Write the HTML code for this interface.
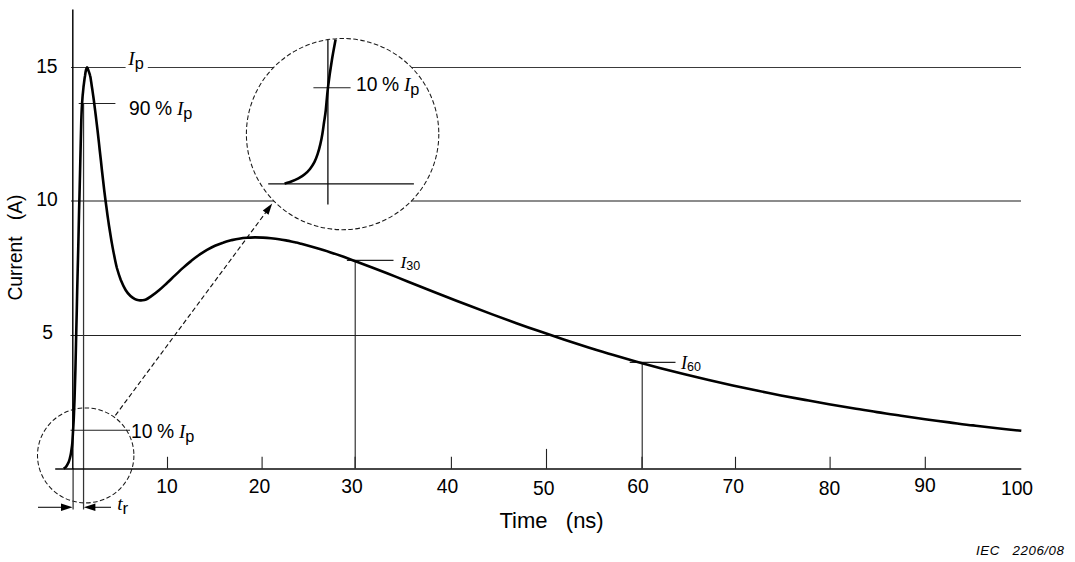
<!DOCTYPE html>
<html><head><meta charset="utf-8"><title>ESD current waveform</title>
<style>html,body{margin:0;padding:0;background:#fff}body{width:1075px;height:562px;overflow:hidden;font-family:"Liberation Sans",sans-serif}svg{display:block}</style>
</head><body>
<svg width="1075" height="562" viewBox="0 0 1075 562">
<rect width="1075" height="562" fill="#fff"/>
<g fill="none">
<path d="M71,67.5H125.6 M147.8,67.5H1021" stroke="#3a3a3a" stroke-width="1.1"/>
<path d="M71,201H1021" stroke="#8c8c8c" stroke-width="2"/>
<path d="M70.5,335.5H1021" stroke="#222" stroke-width="1.1"/>
</g>
<ellipse cx="342.6" cy="134.1" rx="96.2" ry="95.6" fill="#fff" stroke="#1a1a1a" stroke-width="1.05" stroke-dasharray="4.6,2.4"/>
<ellipse cx="85.7" cy="455.4" rx="48.2" ry="47.5" fill="none" stroke="#1a1a1a" stroke-width="1.05" stroke-dasharray="4.6,2.4"/>
<path d="M115.4,415.4 L265.8,212.4" stroke="#111" stroke-width="1.15" stroke-dasharray="4.8,2.8" fill="none"/>
<path d="M272.2,203.6 L268.5,214.8 L262.8,210.5 Z" fill="#000"/>
<g stroke="#222" stroke-width="1.1" fill="none">
<path d="M83.55,103.5V509.5" stroke-width="1.25" stroke="#333"/>
<path d="M73.1,468V509.5" stroke-width="1.25" stroke="#333"/>
<path d="M78.7,103.5H115.4"/>
<path d="M70.5,430.3H130"/>
<path d="M346.9,260.35H393.5 M355.2,260V468"/>
<path d="M629.7,362.4H675.5 M642.2,362.4V468"/>
<path d="M167.5,456.8V468.5"/>
<path d="M262.1,456.8V468.5"/>
<path d="M355.1,456.8V468.5"/>
<path d="M451.4,456.8V468.5"/>
<path d="M546.5,448.9V468.5"/>
<path d="M642,456.8V468.5"/>
<path d="M735.5,456.8V468.5"/>
<path d="M830.1,456.8V468.5"/>
<path d="M925.3,456.8V468.5"/>
<path d="M313.4,87.7H350.6"/>
</g>
<g stroke="#0a0a0a" stroke-width="1.8" fill="none">
<path d="M72.8,9.6V469" stroke-width="1.5"/>
<path d="M55.2,469H1021.3" stroke-width="1.65"/>
</g>
<g stroke="#0a0a0a" stroke-width="1.3" fill="none">
<path d="M327.9,39.9V204.6"/>
<path d="M268.2,183.9H413.9"/>
</g>
<g stroke="#111" stroke-width="1.1" fill="#000">
<path d="M38,507.3H64"/><path d="M111,507.3H92"/>
<path d="M72.6,507.3 L61,503.6 V511 Z" stroke="none"/>
<path d="M83.8,507.3 L95.4,503.6 V511 Z" stroke="none"/>
</g>
<path d="M63.7,468.6 C64.0,468.4 64.9,468.0 65.5,467.4 C66.1,466.8 66.6,466.1 67.1,465.2 C67.6,464.3 68.2,463.2 68.7,462.0 C69.2,460.8 69.5,459.6 69.9,458.1 C70.3,456.6 70.7,454.9 71.0,453.0 C71.3,451.1 71.6,448.9 71.9,446.7 C72.2,444.5 72.3,444.4 72.5,440.0 C72.8,435.6 73.3,426.7 73.7,420.0 C74.0,413.3 74.2,408.3 74.5,400.0 C74.8,391.7 75.0,381.7 75.4,370.0 C75.7,358.3 76.0,343.3 76.3,330.0 C76.7,316.7 76.9,303.3 77.2,290.0 C77.6,276.7 77.8,263.3 78.2,250.0 C78.5,236.7 78.8,223.3 79.1,210.0 C79.5,196.7 79.8,181.7 80.1,170.0 C80.4,158.3 80.6,148.3 80.8,140.0 C81.0,131.7 81.1,125.8 81.3,120.0 C81.5,114.2 81.7,109.2 82.0,105.0 C82.2,100.8 82.5,98.0 82.7,95.0 C83.0,92.0 83.3,89.5 83.5,87.0 C83.8,84.5 84.2,81.8 84.4,80.0 C84.6,78.2 84.7,77.6 85.0,76.0 C85.2,74.4 85.5,71.8 85.9,70.3 C86.3,68.8 86.7,67.3 87.1,67.3 C87.5,67.3 87.9,68.8 88.4,70.3 C88.9,71.8 89.8,74.0 90.2,76.0 C90.7,78.0 90.8,79.7 91.2,82.0 C91.5,84.3 91.9,87.0 92.4,90.0 C92.8,93.0 93.2,95.8 93.8,100.0 C94.3,104.2 95.1,110.0 95.7,115.0 C96.3,120.0 96.8,124.2 97.5,130.0 C98.2,135.8 99.0,143.3 99.7,150.0 C100.5,156.7 101.2,163.3 101.9,170.0 C102.7,176.7 103.4,183.3 104.2,190.0 C105.0,196.7 106.0,204.2 106.8,210.0 C107.5,215.8 108.2,220.0 108.9,225.0 C109.7,230.0 110.5,235.0 111.3,240.0 C112.2,245.0 113.1,250.3 114.1,255.0 C115.0,259.7 115.8,263.8 116.9,268.0 C118.1,272.2 119.4,276.3 120.8,280.0 C122.3,283.7 124.0,287.3 125.6,290.0 C127.2,292.7 128.9,294.5 130.5,296.0 C132.1,297.5 133.6,298.4 135.0,299.1 C136.4,299.8 137.8,300.0 139.0,300.2 C140.2,300.4 141.3,300.4 142.5,300.3 C143.7,300.2 144.6,300.1 146.0,299.5 C147.4,298.9 148.8,298.0 151.0,296.4 C153.2,294.9 156.3,292.6 159.0,290.3 C161.7,288.1 164.3,285.5 167.0,283.0 C169.7,280.5 172.3,277.9 175.0,275.4 C177.7,272.9 180.3,270.3 183.0,267.9 C185.7,265.5 188.3,263.2 191.0,261.1 C193.7,258.9 196.3,256.9 199.0,255.0 C201.7,253.2 204.3,251.4 207.0,249.9 C209.7,248.4 212.3,247.0 215.0,245.8 C217.7,244.6 220.3,243.6 223.0,242.7 C225.7,241.7 228.3,241.0 231.0,240.3 C233.7,239.7 236.3,239.1 239.0,238.7 C241.7,238.3 244.3,238.0 247.0,237.8 C249.7,237.6 252.3,237.5 255.0,237.4 C257.7,237.4 260.3,237.5 263.0,237.6 C265.7,237.7 268.3,237.9 271.0,238.2 C273.7,238.5 276.3,238.8 279.0,239.2 C281.7,239.6 284.3,240.1 287.0,240.6 C289.7,241.1 292.8,241.8 295.0,242.2 C297.2,242.7 295.2,242.1 300.0,243.4 C304.8,244.7 316.0,247.7 324.0,250.2 C332.1,252.7 340.1,255.6 348.1,258.4 C356.1,261.3 364.1,264.4 372.1,267.5 C380.1,270.6 388.2,273.7 396.2,276.9 C404.2,280.1 412.2,283.3 420.2,286.5 C428.2,289.7 436.2,292.9 444.3,296.0 C452.3,299.2 460.3,302.3 468.3,305.3 C476.3,308.4 484.3,311.4 492.3,314.4 C500.4,317.4 508.4,320.3 516.4,323.2 C524.4,326.1 532.4,328.9 540.4,331.6 C548.4,334.4 556.5,337.1 564.5,339.7 C572.5,342.3 580.5,344.9 588.5,347.4 C596.5,349.9 604.5,352.4 612.6,354.7 C620.6,357.1 628.6,359.4 636.6,361.7 C644.6,363.9 652.6,366.1 660.6,368.2 C668.7,370.3 676.7,372.3 684.7,374.3 C692.7,376.3 700.7,378.2 708.7,380.1 C716.8,381.9 724.8,383.7 732.8,385.5 C740.8,387.2 748.8,388.9 756.8,390.6 C764.8,392.2 772.9,393.8 780.9,395.4 C788.9,396.9 796.9,398.4 804.9,399.9 C812.9,401.4 820.9,402.8 829.0,404.2 C837.0,405.6 845.0,406.9 853.0,408.2 C861.0,409.6 869.0,410.8 877.0,412.1 C885.1,413.3 893.1,414.6 901.1,415.7 C909.1,416.9 917.1,418.1 925.1,419.2 C933.1,420.3 941.2,421.4 949.2,422.4 C957.2,423.4 965.2,424.5 973.2,425.4 C981.2,426.4 989.2,427.3 997.3,428.2 C1005.3,429.1 1017.3,430.4 1021.3,430.8" stroke="#000" stroke-width="2.6" fill="none" stroke-linejoin="round"/>
<path d="M284.6,183.7 C285.7,183.3 289.0,182.4 291.3,181.5 C293.6,180.6 296.2,179.5 298.4,178.3 C300.6,177.1 302.8,175.9 304.7,174.3 C306.6,172.8 308.4,171.0 310.0,169.0 C311.6,167.0 313.1,164.7 314.4,162.2 C315.7,159.7 316.6,157.2 317.6,154.2 C318.6,151.2 319.5,147.8 320.3,144.4 C321.1,141.0 321.8,137.7 322.4,133.8 C323.0,130.0 323.6,125.3 324.2,121.3 C324.8,117.3 325.2,115.7 325.8,110.0 C326.4,104.3 327.0,95.6 328.0,87.3 C329.0,79.0 330.6,68.0 331.9,60.0 C333.2,52.0 335.0,42.8 335.6,39.4" stroke="#000" stroke-width="2.6" fill="none"/>
<g font-family='"Liberation Sans", sans-serif' font-size="19.3" fill="#000">
<text x="166.9" y="492.6" text-anchor="middle">10</text>
<text x="259.4" y="492.6" text-anchor="middle">20</text>
<text x="351.9" y="492.6" text-anchor="middle">30</text>
<text x="447.5" y="492.6" text-anchor="middle">40</text>
<text x="543.7" y="494.6" text-anchor="middle">50</text>
<text x="638" y="493.3" text-anchor="middle">60</text>
<text x="733.2" y="493.3" text-anchor="middle">70</text>
<text x="829.6" y="494.6" text-anchor="middle">80</text>
<text x="925.1" y="492.4" text-anchor="middle">90</text>
<text x="1017" y="494.6" text-anchor="middle">100</text>
<text x="57.6" y="72.8" text-anchor="end">15</text>
<text x="57.7" y="205.5" text-anchor="end">10</text>
<text x="53" y="338.7" text-anchor="end">5</text>
<text transform="translate(22.3,300.6) rotate(-90)" xml:space="preserve">Current   (A)</text>
<text x="499.4" y="527.8" font-size="22" xml:space="preserve">Time   (ns)</text>
<text x="976" y="555.4" font-size="13.3" letter-spacing="0.55" font-style="italic" xml:space="preserve">IEC   2206/08</text>
<text x="128.3" y="65" xml:space="preserve" word-spacing="-0.7"><tspan font-family='"Liberation Serif", serif' font-style="italic" font-size="19.3">I</tspan><tspan dy="4" font-size="16.3">p</tspan></text>
<text x="129" y="114.6" xml:space="preserve" word-spacing="-0.7">90 % <tspan font-family='"Liberation Serif", serif' font-style="italic" font-size="19.3">I</tspan><tspan dy="4" font-size="16.3">p</tspan></text>
<text x="131" y="438.2" xml:space="preserve" word-spacing="-0.7">10 % <tspan font-family='"Liberation Serif", serif' font-style="italic" font-size="19.3">I</tspan><tspan dy="4" font-size="16.3">p</tspan></text>
<text x="356" y="91.3" xml:space="preserve" word-spacing="-0.7">10 % <tspan font-family='"Liberation Serif", serif' font-style="italic" font-size="19.3">I</tspan><tspan dy="4" font-size="16.3">p</tspan></text>
<text x="400.4" y="268.3"><tspan font-family='"Liberation Serif", serif' font-style="italic" font-size="17.4">I</tspan><tspan dy="1.5" font-size="12.5">30</tspan></text>
<text x="681" y="368.7"><tspan font-family='"Liberation Serif", serif' font-style="italic" font-size="18.3">I</tspan><tspan dy="2.3" font-size="12.5">60</tspan></text>
<text x="117.2" y="510.2"><tspan font-family='"Liberation Serif", serif' font-style="italic" font-size="19.3">t</tspan><tspan dy="3.4" font-size="17">r</tspan></text>
</g>
</svg>
</body></html>
